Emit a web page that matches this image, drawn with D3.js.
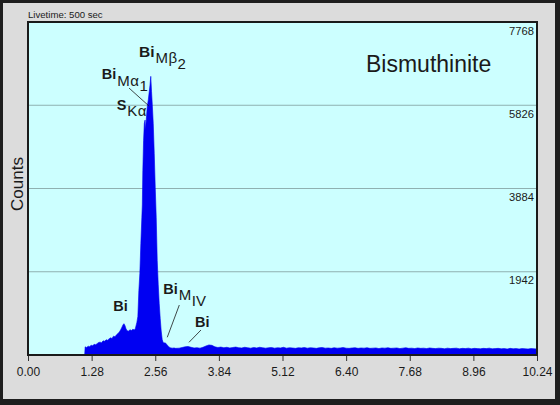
<!DOCTYPE html>
<html>
<head>
<meta charset="utf-8">
<script src="https://cdn.jsdelivr.net/npm/d3@7"></script>
<style>
  body { margin: 0; background: #fff; }
  svg { display: block; font-family: "Liberation Sans", Arial, sans-serif; }
</style>
</head>
<body>
<svg></svg>
<script>
// EDS spectrum, bismuthinite
const xTicks = [0, 1.28, 2.56, 3.84, 5.12, 6.40, 7.68, 8.96, 10.24];
const yTicks = [1942, 3884, 5826, 7768];

// low energy side + main Bi M / S K peak (keV, counts)
const peakEnergy = [1.14, 1.15, 1.18, 1.21, 1.24, 1.27, 1.30, 1.33, 1.36, 1.39, 1.42, 1.45, 1.48, 1.51,
  1.54, 1.57, 1.60, 1.63, 1.66, 1.69, 1.72, 1.75, 1.78, 1.81, 1.84, 1.87, 1.89, 1.91, 1.93, 1.95,
  1.97, 1.99, 2.02, 2.05, 2.08, 2.11, 2.14, 2.16, 2.19, 2.21, 2.23, 2.25, 2.27, 2.29, 2.30, 2.31,
  2.325, 2.34, 2.355, 2.365, 2.38, 2.40, 2.42, 2.44, 2.455, 2.47, 2.485, 2.50, 2.52, 2.54, 2.56,
  2.58, 2.60, 2.62, 2.64, 2.66, 2.68, 2.70, 2.72, 2.74, 2.76, 2.78, 2.80, 2.83, 2.86, 2.90, 2.94, 2.97];
const peakCounts = [0, 190, 175, 205, 195, 230, 215, 250, 240, 265, 290, 300, 285, 330,
  320, 355, 345, 375, 400, 385, 440, 425, 470, 500, 540, 600, 650, 700, 730, 690,
  620, 570, 555, 590, 570, 600, 585, 620, 760, 900, 1500, 1900, 2600, 3200, 3500, 4300,
  5000, 5400, 5480, 5250, 5500, 5800, 5950, 6150, 6300, 6500, 6150, 5850, 5400, 4700, 3900,
  3200, 2200, 1650, 1200, 850, 560, 360, 290, 280, 285, 260, 235, 195, 170, 160, 165, 155];

// background tail, one value every 0.06 keV from 3.04 keV
const tailStart = 3.04;
const tailStep = 0.06;
const tailCounts = [160, 175, 190, 200, 180, 165, 170, 160, 180, 210, 235, 225, 190, 175, 185, 170, 180, 165, 175, 185, 170,
  165, 180, 170, 160, 175, 165, 180, 170, 160, 170,
  175, 160, 170, 165, 180, 160, 170, 165, 155, 170,
  165, 175, 160, 170, 165, 155, 170, 175, 160, 165,
  155, 170, 160, 165, 175, 160, 155, 165, 170, 155,
  165, 160, 170, 155, 160, 165, 150, 165, 160, 170,
  155, 160, 165, 150, 160, 170, 155, 160, 150, 165,
  155, 160, 150, 165, 155, 150, 160, 155, 145, 160,
  150, 155, 160, 145, 155, 150, 160, 145, 155, 150,
  145, 155, 150, 160, 145, 150, 155, 145, 150, 140,
  155, 145, 150, 140, 150, 145, 140, 150, 145, 140];

// line labels: [main, sub, subsub], anchored at (keV, counts)
const labelText = [["Bi", "Mβ", "2"], ["Bi", "Mα", "1"], ["S", "Kα", ""], ["Bi", "", ""], ["Bi", "M", "IV"], ["Bi", "", ""]];
const labelEnergy = [2.233, 1.483, 1.784, 1.716, 2.722, 3.360];
const labelCounts = [6951, 6431, 5715, 1033, 1423, 660];

// leader lines [e0, c0, e1, c1]
const leaders = [[2.032, 6228, 2.434, 5808], [3.044, 1166, 2.802, 413], [3.480, 583, 3.239, 296]];

const width = 560, height = 405;
const margin = {top: 22, right: 23, bottom: 50, left: 28};
const iw = width - margin.left - margin.right;
const ih = height - margin.top - margin.bottom;

const spectrum = peakEnergy.map((e, i) => [e, peakCounts[i]])
  .concat(tailCounts.map((c, i) => [tailStart + i * tailStep, c]));

const svg = d3.select('svg')
  .attr('width', width)
  .attr('height', height);

// frame
svg.append('rect').attr('width', width).attr('height', height).attr('fill', '#1e1e1e');
svg.append('rect').attr('x', 3).attr('y', 3).attr('width', width - 8).attr('height', height - 9).attr('fill', '#dcdcdc');

const x = d3.scaleLinear().domain([0, 10.24]).range([0, iw]);
const y = d3.scaleLinear().domain([0, 7768]).range([ih, 0]);

const g = svg.append('g').attr('transform', `translate(${margin.left},${margin.top})`);

g.append('rect').attr('width', iw).attr('height', ih).attr('fill', '#ccffff');

g.append('clipPath').attr('id', 'clip')
  .append('rect').attr('width', iw).attr('height', ih);

// grid lines
g.selectAll('.grid')
  .data(yTicks)
  .enter().append('line')
  .attr('x1', 0).attr('x2', iw)
  .attr('y1', d => y(d)).attr('y2', d => y(d))
  .attr('stroke', '#8fb1b1')
  .attr('stroke-width', 1);

const area = d3.area()
  .x(d => x(d[0]))
  .y0(y(0))
  .y1(d => y(d[1]));

g.append('path')
  .datum(spectrum)
  .attr('clip-path', 'url(#clip)')
  .attr('d', area)
  .attr('fill', '#0000f2')
  .attr('stroke', '#0000f2')
  .attr('stroke-width', 0.6);

// right side count labels
g.selectAll('.ylab')
  .data(yTicks)
  .enter().append('text')
  .attr('x', iw - 3)
  .attr('y', d => y(d) + 12.5)
  .attr('text-anchor', 'end')
  .attr('font-size', 11.2)
  .attr('fill', '#1a1a1a')
  .text(d => d);

// plot border
g.append('rect').attr('width', iw).attr('height', ih)
  .attr('fill', 'none').attr('stroke', '#1a1a1a').attr('stroke-width', 2);

// x axis
const xAxis = d3.axisBottom(x)
  .tickValues(xTicks)
  .tickSize(5)
  .tickPadding(6)
  .tickFormat(d3.format('.2f'));

const ax = g.append('g')
  .attr('transform', `translate(0,${ih + 1})`)
  .call(xAxis);
ax.attr('font-size', null).attr('font-family', null);
ax.select('.domain').remove();
ax.selectAll('line').attr('stroke', '#333');
ax.selectAll('text')
  .style('font-size', '12px')
  .attr('fill', '#1a1a1a');

svg.append('text')
  .attr('transform', 'translate(22.5,184) rotate(-90)')
  .attr('text-anchor', 'middle')
  .attr('font-size', 17)
  .attr('fill', '#1a1a1a')
  .text('Counts');

svg.append('text')
  .attr('x', margin.left)
  .attr('y', 18)
  .attr('font-size', 9.6)
  .attr('fill', '#1a1a1a')
  .text('Livetime: 500 sec');

g.append('text')
  .attr('x', x(6.80))
  .attr('y', y(6601))
  .attr('font-size', 23)
  .attr('fill', '#1a1a1a')
  .text('Bismuthinite');

// leader lines
g.selectAll('.leader')
  .data(leaders)
  .enter().append('line')
  .attr('x1', d => x(d[0])).attr('y1', d => y(d[1]))
  .attr('x2', d => x(d[2])).attr('y2', d => y(d[3]))
  .attr('stroke', '#1a1a1a')
  .attr('stroke-width', 0.8);

// peak labels with subscripts
labelText.forEach((parts, i) => {
  const t = g.append('text')
    .attr('x', x(labelEnergy[i]))
    .attr('y', y(labelCounts[i]))
    .attr('fill', '#1a1a1a');
  t.append('tspan')
    .attr('font-weight', 'bold')
    .attr('font-size', i === 0 ? 15.5 : 14.5)
    .text(parts[0]);
  if (parts[1]) {
    t.append('tspan')
      .attr('dx', 1)
      .attr('dy', 6.3)
      .attr('font-size', 15)
      .attr('letter-spacing', 0.5)
      .text(parts[1]);
  }
  if (parts[2]) {
    t.append('tspan')
      .attr('dy', 5.5)
      .attr('font-size', 15)
      .text(parts[2]);
  }
});
</script>
</body>
</html>
